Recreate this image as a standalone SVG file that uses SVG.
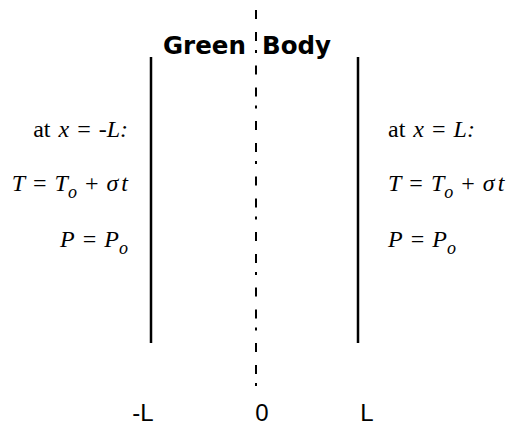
<svg xmlns="http://www.w3.org/2000/svg" width="510" height="432" viewBox="0 0 510 432">
<style>
.bar{stroke:#000;stroke-width:2.5;fill:none}
.center{stroke:#000;stroke-width:2;fill:none;stroke-dasharray:9 13 9 9 3 12.5}
.math{font-family:"Liberation Serif","Times New Roman",serif;font-size:24px;word-spacing:2px;fill:#000}
.it{font-style:italic}
.sub{font-style:italic;font-size:18px}
.title{font-family:"DejaVu Sans","Liberation Sans",sans-serif;font-weight:bold;font-size:24.5px;fill:#000}
.axis{font-family:"Liberation Sans",Arial,sans-serif;font-size:24px;fill:#000}
</style>
<rect width="510" height="432" fill="#fff"/>
<g id="connectors">
<line id="centerline" class="center" x1="256" y1="10" x2="256" y2="386"/>
</g>
<g id="left-wall"><line class="bar" x1="151" y1="57" x2="151" y2="343"/></g>
<g id="right-wall"><line class="bar" x1="358" y1="57" x2="358" y2="343"/></g>
<g id="title"><text class="title" x="163" y="54">Green</text><text class="title" x="262" y="54">Body</text></g>
<g id="left-bc" class="math" text-anchor="end">
<text x="128" y="137">at <tspan class="it">x</tspan> = -<tspan class="it">L:</tspan></text>
<text x="128" y="191"><tspan class="it">T</tspan> = <tspan class="it">T</tspan><tspan class="sub" dy="7">o</tspan><tspan dy="-7"> + </tspan><tspan class="it">σ</tspan><tspan class="it" dx="3">t</tspan></text>
<text x="128" y="247"><tspan class="it">P</tspan> = <tspan class="it">P</tspan><tspan class="sub" dy="7">o</tspan></text>
</g>
<g id="right-bc" class="math">
<text x="388" y="137">at <tspan class="it">x</tspan> = <tspan class="it">L:</tspan></text>
<text x="388" y="191"><tspan class="it">T</tspan> = <tspan class="it">T</tspan><tspan class="sub" dy="7">o</tspan><tspan dy="-7"> + </tspan><tspan class="it">σ</tspan><tspan class="it" dx="3">t</tspan></text>
<text x="388" y="247"><tspan class="it">P</tspan> = <tspan class="it">P</tspan><tspan class="sub" dy="7">o</tspan></text>
</g>
<g id="axis-labels" class="axis" text-anchor="middle">
<text x="143" y="421">-L</text>
<text x="262" y="421">0</text>
<text x="367" y="421">L</text>
</g>
</svg>
